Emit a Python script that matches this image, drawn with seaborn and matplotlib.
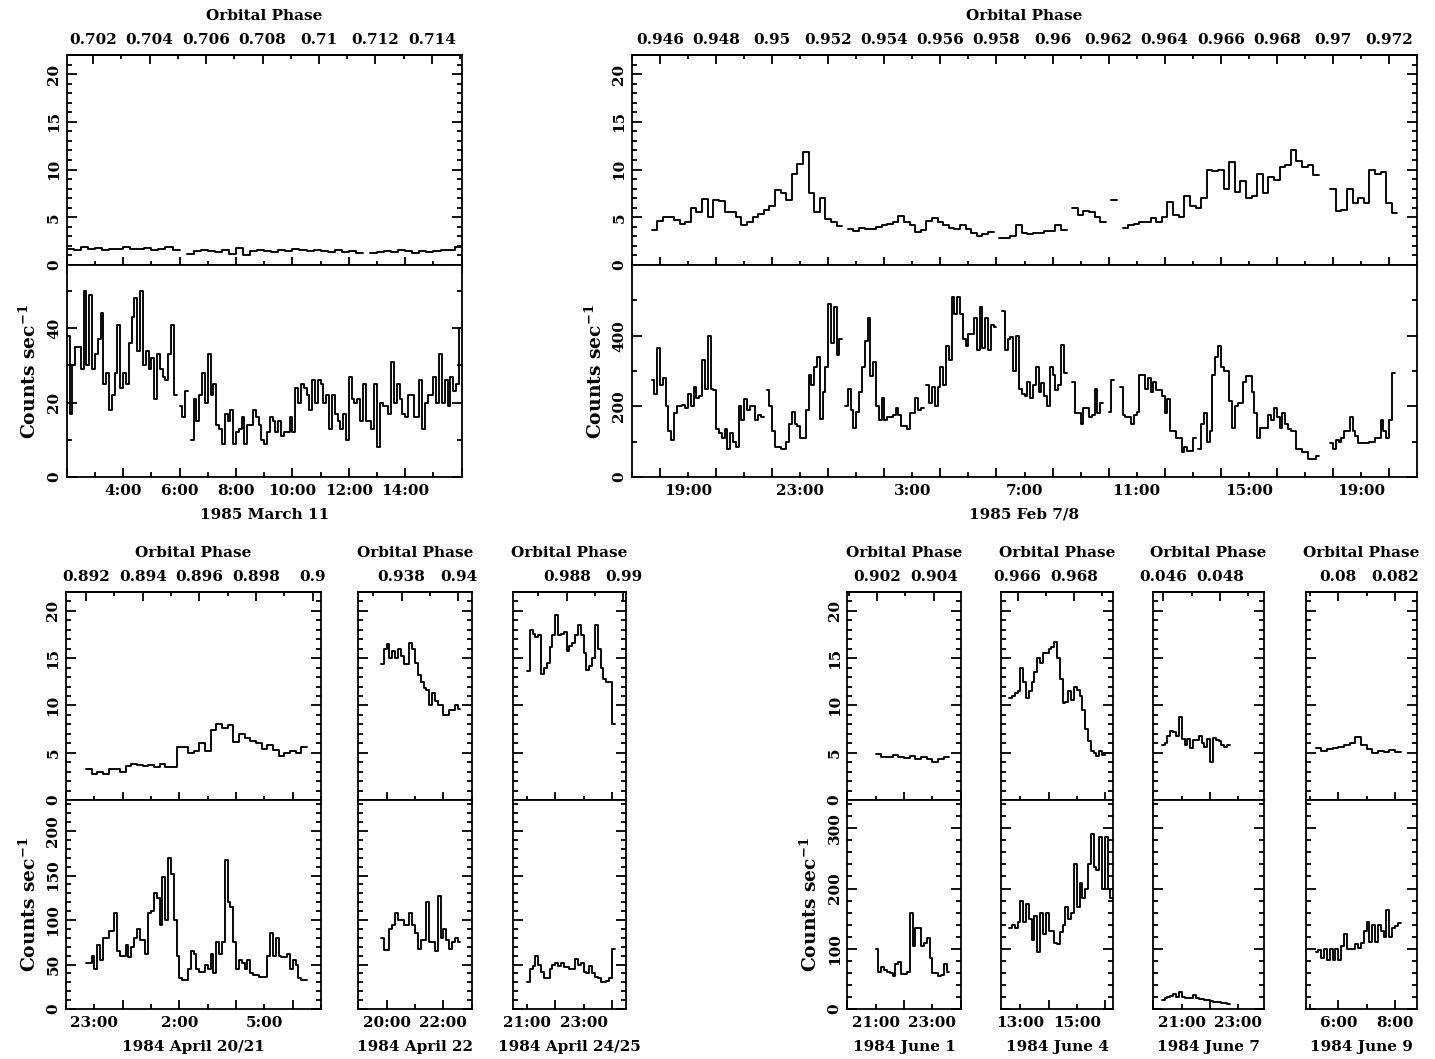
import numpy as np
import pandas as pd
import matplotlib
matplotlib.use("Agg")
import matplotlib.pyplot as plt
import seaborn as sns
from matplotlib.ticker import FixedLocator

nan = np.nan

# ---------------------------------------------------------------------------
# Light curves: low-energy rate (upper strip) and high-energy rate (lower strip)
# Each curve: start hour, bin width (h), binned count rates (nan = data gap)
# ---------------------------------------------------------------------------

# 1985 March 11
A_TOP_START, A_TOP_BIN = 2.0, 0.25
A_TOP = [1.7, 1.6, 1.9, 1.7, 1.8, 1.6, 1.7, 1.7, 1.9, 1.7, 1.7, 1.8, 1.6, 1.7, 1.9, 1.6,
         nan,
         1.2, 1.5, 1.6, 1.5, 1.4, 1.6, 1.2, 1.8, 1.0, 1.5, 1.6, 1.5, 1.4, 1.6, 1.5, 1.7,
         1.6, 1.5, 1.6, 1.5, 1.4, 1.6, 1.4, 1.5, 1.3,
         nan,
         1.3, 1.4, 1.5, 1.4, 1.6, 1.5, 1.3, 1.5, 1.4, 1.5, 1.6, 1.6, 1.9]
A_BOT_START, A_BOT_BIN = 2.0, 0.1
A_BOT = [38, 17, 30, 35, 35, 29, 50, 30, 49, 29,
         33, 37, 44, 25, 28, 18, 22, 28, 41, 24,
         28, 25, 36, 43, 48, 34, 50, 30, 34, 29,
         32, 21, 33, 29, 27, 26, 33, 41, 22, nan,
         19, 16, 23, nan, 10, 21, 15, 22, 28, 20,
         33, 22, 25, 14, 13, 9, 17, 15, 18, 9,
         12, 13, 16, 9, 14, 14, 18, 16, 14, 10,
         9, 12, 16, 15, 12, 15, 11, 12, 12, 16,
         12, 24, 20, 25, 24, 22, 18, 26, 20, 26,
         25, 20, 22, 13, 22, 17, 15, 13, 17, 10,
         27, 21, 20, 21, 15, 25, 15, 15, 13, 25,
         8, 20, 19, 19, 17, 31, 20, 25, 21, 17,
         16, 22, 22, 16, 16, 26, 13, 20, 22, 22,
         27, 20, 33, 20, 26, 19, 27, 23, 25, 40]

# 1985 Feb 7/8 (hours counted from Feb 7 0:00)
B_TOP_START, B_TOP_BIN = 17.7, 0.2
B_TOP = [3.7, 4.6, 5.0, 5.0, 4.7, 4.3, 4.5, 6.0, 5.5, 6.9,
         5.0, 6.8, 6.7, 5.6, 5.5, 5.0, 4.2, 4.5, 5.0, 5.3,
         5.8, 6.2, 7.9, 7.5, 6.8, 9.5, 10.6, 11.8, 7.5, 5.6,
         7.0, 4.8, 4.5, 4.1, nan, 3.8, 3.6, 3.9, 3.8, 3.8,
         4.0, 4.2, 4.3, 4.5, 5.1, 4.5, 4.2, 3.5, 3.7, 4.6,
         4.9, 4.5, 4.2, 3.9, 3.8, 4.2, 3.8, 3.4, 3.0, 3.2,
         3.5, nan, 2.8, 2.8, 3.0, 4.2, 3.4, 3.2, 3.3, 3.4,
         3.6, 3.6, 4.2, 3.7, nan, 6.0, 5.2, 5.7, 5.5, 5.0,
         4.5, nan, 6.8, nan, 3.9, 4.2, 4.3, 4.5, 4.5, 4.9,
         4.5, 5.0, 6.6, 5.2, 5.0, 7.2, 6.2, 6.0, 7.0, 10.0,
         9.8, 10.0, 8.0, 10.8, 7.6, 8.8, 7.0, 7.2, 9.5, 7.5,
         9.2, 8.9, 10.3, 10.5, 12.0, 10.9, 10.3, 10.5, 9.4, nan,
         nan, 8.0, 5.7, 5.8, 8.0, 6.5, 7.0, 6.5, 9.9, 9.5,
         9.7, 6.5, 5.4]
B_BOT_START, B_BOT_BIN = 17.7, 0.1
B_BOT = [275, 235, 365, 260, 280, 200, 130, 105, 180, 200,
         200, 205, 195, 235, 200, 255, 225, 230, 330, 250,
         400, 250, 245, 135, 125, 110, 135, 80, 125, 100,
         85, 200, 160, 220, 190, 200, 200, 160, 175, 170,
         nan, 245, 200, 130, 85, 85, 80, 80, 100, 150,
         185, 150, 145, 110, 110, 190, 290, 260, 310, 340,
         165, 240, 310, 490, 380, 480, 345, 390, nan, 200,
         250, 190, 140, 185, 240, 310, 385, 450, 285, 325,
         200, 160, 225, 160, 170, 170, 175, 195, 175, 145,
         145, 135, 180, 180, 225, 190, 195, nan, 260, 210,
         255, 200, 255, 310, 260, 370, 330, 510, 460, 510,
         460, 390, 370, 405, 405, 450, 360, 480, 365, 450,
         360, 430, 425, nan, nan, 470, 360, 390, 395, 300,
         400, 250, 235, 230, 270, 225, 260, 310, 240, 265,
         230, 200, 310, 290, 245, 260, 375, 295, nan, nan,
         270, 180, 180, 150, 195, 195, 170, 175, 250, 180,
         210, nan, nan, 185, 275, nan, nan, 255, 175, 170,
         170, 150, 175, 185, 290, 290, 250, 280, 240, 270,
         245, 245, 230, 180, 220, 130, 130, 110, 110, 70,
         85, 75, 75, 110, nan, 80, 150, 180, 100, 130,
         290, 340, 370, 310, 300, 300, 215, 140, 200, 210,
         210, 270, 285, 285, 240, 180, 110, 140, 140, 140,
         175, 160, 195, 170, 140, 180, 150, 135, 130, 130,
         80, 80, 70, 70, 50, 50, 50, 60, nan, nan,
         nan, nan, 95, 80, 105, 100, 110, 130, 130, 170,
         130, 115, 95, 95, 95, 95, 100, 100, 110, 110,
         160, 130, 110, 160, 295]

# 1984 April 20/21 (hours from April 20 0:00)
C_TOP_START, C_TOP_BIN = 22.7, 0.2
C_TOP = [3.3, 2.7, 3.0, 2.8, 3.3, 3.3, 3.0, 3.6, 3.8, 3.7,
         3.6, 3.7, 3.5, 3.8, 3.5, 3.5, 5.6, 5.6, 5.0, 5.2,
         6.0, 5.2, 7.4, 8.0, 7.6, 7.9, 6.1, 7.0, 6.6, 6.2,
         6.0, 5.4, 5.8, 5.3, 4.7, 5.0, 5.2, 5.0, 5.6]
C_BOT_START, C_BOT_BIN = 22.7, 0.1
C_BOT = [52, 52, 60, 45, 72, 55, 80, 80, 88, 88,
         108, 65, 60, 60, 72, 58, 70, 80, 90, 78,
         78, 62, 108, 110, 130, 125, 95, 148, 100, 170,
         152, 100, 60, 35, 33, 33, 45, 65, 62, 45,
         42, 42, 50, 45, 62, 40, 75, 62, 75, 168,
         120, 115, 75, 45, 55, 52, 45, 55, 40, 38,
         38, 36, 36, 36, 60, 85, 60, 80, 60, 58,
         58, 62, 45, 55, 50, 35, 33, 33]

# 1984 April 22
D_TOP_START, D_TOP_BIN = 19.8, 0.1
D_TOP = [14.4, 16.0, 16.5, 15.0, 15.8, 15.0, 16.0, 15.2, 14.4, 14.4,
         16.6, 16.0, 14.5, 13.2, 12.5, 11.8, 11.6, 10.0, 11.3, 10.5,
         10.0, 10.0, 9.0, 9.0, 9.5, 9.5, 10.1, 9.6]
D_BOT_START, D_BOT_BIN = 19.8, 0.1
D_BOT = [80, 66, 66, 90, 95, 108, 100, 100, 95, 95,
         108, 95, 85, 68, 78, 78, 120, 75, 75, 65,
         127, 80, 90, 78, 68, 75, 80, 75]

# 1984 April 24/25
E_TOP_START, E_TOP_BIN = 21.0, 0.1
E_TOP = [13.6, 18.0, 17.6, 17.2, 17.4, 13.3, 14.0, 14.5, 16.2, 17.5,
         19.6, 17.5, 17.6, 17.8, 15.8, 16.3, 16.6, 17.5, 18.5, 17.5,
         15.5, 13.8, 14.2, 15.0, 18.5, 16.0, 14.0, 12.8, 12.5, 12.5, 8.0]
E_BOT_START, E_BOT_BIN = 21.0, 0.1
E_BOT = [30, 45, 48, 60, 50, 42, 35, 35, 45, 50,
         52, 48, 52, 47, 47, 45, 45, 56, 50, 52,
         42, 40, 48, 40, 36, 35, 30, 30, 32, 35, 68]

# 1984 June 1
F_TOP_START, F_TOP_BIN = 21.0, 0.2
F_TOP = [4.9, 4.5, 4.6, 4.8, 4.5, 4.4, 4.7, 4.3, 4.6, 4.3, 4.0, 4.3, 4.6]
F_BOT_START, F_BOT_BIN = 21.0, 0.1
F_BOT = [100, 62, 70, 65, 62, 60, 55, 75, 78, 58,
         58, 62, 160, 105, 135, 135, 105, 110, 118, 85,
         60, 60, 55, 56, 75, 62]

# 1984 June 4
G_TOP_START, G_TOP_BIN = 12.6, 0.1
G_TOP = [10.8, 11.0, 11.3, 11.5, 14.0, 12.5, 10.8, 11.5, 12.5, 13.5,
         15.0, 14.5, 15.6, 15.5, 16.0, 16.2, 16.7, 15.0, 12.8, 10.3,
         10.4, 11.5, 10.6, 12.0, 11.6, 11.0, 9.5, 7.5, 6.2, 5.2,
         5.0, 4.7, 5.2, 4.8, 5.0, 5.0]
G_BOT_START, G_BOT_BIN = 12.6, 0.1
G_BOT = [135, 140, 135, 145, 180, 145, 175, 150, 115, 155,
         95, 160, 125, 160, 130, 130, 110, 108, 128, 140,
         170, 150, 160, 240, 170, 210, 185, 200, 240, 290,
         235, 230, 285, 200, 285, 200, 185]

# 1984 June 7
H_TOP_START, H_TOP_BIN = 20.3, 0.1
H_TOP = [5.8, 6.0, 6.8, 7.3, 7.2, 6.8, 8.8, 6.5, 5.8, 6.5,
         5.5, 6.3, 6.3, 6.8, 6.0, 5.6, 6.5, 4.0, 6.6, 6.3,
         6.2, 5.8, 5.6, 5.8]
H_BOT_START, H_BOT_BIN = 20.3, 0.1
H_BOT = [15, 18, 20, 22, 25, 20, 28, 20, 18, 18,
         18, 24, 18, 17, 17, 15, 15, 13, 12, 12,
         11, 10, 10, 9]

# 1984 June 9
I_TOP_START, I_TOP_BIN = 5.2, 0.2
I_TOP = [5.5, 5.2, 5.4, 5.5, 5.6, 5.8, 6.0, 6.7, 5.8, 5.4, 5.0, 5.2, 5.1, 5.3, 5.1]
I_BOT_START, I_BOT_BIN = 5.2, 0.1
I_BOT = [95, 98, 85, 100, 82, 100, 82, 100, 82, 105,
         125, 100, 100, 100, 108, 102, 110, 130, 145, 112,
         140, 112, 140, 130, 120, 165, 120, 135, 138, 142]

# Orbital phase reference: phase value at a given hour, 0.001 per hour
A_PHASE = (0.702, 2.94)
B_PHASE = (0.946, 18.0)
C_PHASE = (0.892, 22.71)
D_PHASE = (0.938, 20.53)
E_PHASE = (0.988, 22.41)
F_PHASE = (0.902, 21.05)
G_PHASE = (0.966, 12.90)
H_PHASE = (0.046, 20.35)
I_PHASE = (0.080, 6.00)

# Hours that carry a clock label on the time axis
A_TIME_LABELS = [4, 6, 8, 10, 12, 14]
B_TIME_LABELS = [19, 23, 27, 31, 35, 39, 43]
C_TIME_LABELS = [23, 26, 29]
D_TIME_LABELS = [20, 22]
E_TIME_LABELS = [21, 23]
F_TIME_LABELS = [21, 23]
G_TIME_LABELS = [13, 15]
H_TIME_LABELS = [21, 23]
I_TIME_LABELS = [6, 8]

DATES = ["1985 March 11", "1985 Feb 7/8", "1984 April 20/21", "1984 April 22",
         "1984 April 24/25", "1984 June 1", "1984 June 4", "1984 June 7", "1984 June 9"]

# ---------------------------------------------------------------------------
# Style
# ---------------------------------------------------------------------------
sns.set_theme(style="ticks")
plt.rcParams["font.family"] = ["DejaVu Serif"]
plt.rcParams["font.weight"] = "bold"
plt.rcParams["axes.labelweight"] = "bold"
plt.rcParams["mathtext.fontset"] = "dejavuserif"
plt.rcParams["mathtext.default"] = "bf"
plt.rcParams["axes.linewidth"] = 1.3
plt.rcParams["axes.edgecolor"] = "black"
plt.rcParams["text.color"] = "black"
plt.rcParams["axes.labelcolor"] = "black"
plt.rcParams["xtick.color"] = "black"
plt.rcParams["ytick.color"] = "black"

W, H = 1435, 1059
fig = plt.figure(figsize=(W / 100, H / 100), dpi=100)
fig.patch.set_facecolor("white")

LW = 1.35
TW = 1.3
FS = 11
FS_YLAB = 13.5


def step_frame(start, width, values):
    v = np.asarray(values, dtype=float)
    t = start + width * np.arange(len(v))
    parts, seg, i, n = [], 0, 0, len(v)
    while i < n:
        if np.isnan(v[i]):
            i += 1
            continue
        j = i
        while j < n and not np.isnan(v[j]):
            j += 1
        xs = np.append(t[i:j], t[j - 1] + width)
        ys = np.append(v[i:j], v[j - 1])
        parts.append(pd.DataFrame({"hour": xs, "rate": ys, "seg": seg}))
        seg += 1
        i = j
    return pd.concat(parts, ignore_index=True)


def draw_curve(ax, start, width, values):
    df = step_frame(start, width, values)
    sns.lineplot(data=df, x="hour", y="rate", units="seg", estimator=None,
                 drawstyle="steps-post", color="black", linewidth=LW,
                 legend=False, sort=False, ax=ax)
    ax.set_xlabel("")
    ax.set_ylabel("")


def phase_text(p):
    return f"{p:.3f}".rstrip("0").rstrip(".")


def in_range(lo, hi, step):
    k0 = int(np.ceil(lo / step - 1e-9))
    k1 = int(np.floor(hi / step + 1e-9))
    return np.arange(k0, k1 + 1) * step


def rect(l, r, top, bot):
    return [l / W, 1 - bot / H, (r - l) / W, (bot - top) / H]


def style_y(ax, show_labels):
    ax.tick_params(axis="y", which="both", direction="in", left=True, right=True,
                   labelleft=show_labels, labelright=False, width=TW,
                   labelsize=FS, labelrotation=90, pad=4)
    ax.tick_params(axis="y", which="major", length=7.5)
    ax.tick_params(axis="y", which="minor", length=3.6)
    if show_labels:
        for lab in ax.get_yticklabels():
            lab.set_verticalalignment("center")


def make_panel(box, rows, xlim, top_curve, bot_curve, bot_ymax, bot_major,
               bot_minor, phase, time_labels, date, show_y):
    l, r = box
    row_top, row_mid, row_bot = rows
    ax_t = fig.add_axes(rect(l, r, row_top, row_mid))
    ax_b = fig.add_axes(rect(l, r, row_mid, row_bot))

    draw_curve(ax_t, *top_curve)
    draw_curve(ax_b, *bot_curve)

    for ax in (ax_t, ax_b):
        ax.set_xlim(*xlim)
        ax.set_facecolor("white")
        ax.xaxis.set_major_locator(FixedLocator(in_range(xlim[0], xlim[1], 2)))
        ax.xaxis.set_minor_locator(FixedLocator(in_range(xlim[0], xlim[1], 1)))
        for s in ax.spines.values():
            s.set_linewidth(1.3)
            s.set_color("black")

    # upper strip: soft band rate
    ax_t.set_ylim(0, 22)
    ax_t.yaxis.set_major_locator(FixedLocator([0, 5, 10, 15, 20]))
    ax_t.yaxis.set_minor_locator(FixedLocator(np.arange(0, 22)))
    ax_t.tick_params(axis="x", which="both", direction="inout", bottom=True,
                     top=False, labelbottom=False, width=TW)
    ax_t.tick_params(axis="x", which="major", length=11)
    ax_t.tick_params(axis="x", which="minor", length=6)
    style_y(ax_t, show_y)

    # lower strip: hard band rate
    ax_b.set_ylim(0, bot_ymax)
    ax_b.yaxis.set_major_locator(FixedLocator(np.arange(0, bot_ymax - 1e-6, bot_major)))
    ax_b.yaxis.set_minor_locator(FixedLocator(np.arange(0, bot_ymax - 1e-6, bot_minor)))
    ax_b.tick_params(axis="x", which="both", direction="in", bottom=True,
                     top=False, labelbottom=False, width=TW)
    ax_b.tick_params(axis="x", which="major", length=6.5)
    ax_b.tick_params(axis="x", which="minor", length=3.6)
    style_y(ax_b, show_y)
    if show_y:
        ax_b.set_ylabel("Counts sec$^{-1}$", fontsize=FS_YLAB, fontweight="bold",
                        labelpad=5)

    # orbital phase scale on top
    p0, h0 = phase
    to_phase = lambda h, p0=p0, h0=h0: p0 + (np.asarray(h) - h0) * 1e-3
    to_hour = lambda p, p0=p0, h0=h0: h0 + (np.asarray(p) - p0) * 1e3
    sec = ax_t.secondary_xaxis("top", functions=(to_phase, to_hour))
    plo, phi = sorted(to_phase(np.array(xlim)))
    majors = in_range(plo, phi, 0.002)
    sec.set_ticks(majors, labels=[phase_text(p) for p in majors])
    sec.set_ticks(in_range(plo, phi, 0.001), minor=True)
    sec.tick_params(which="both", direction="in", width=TW, labelsize=FS)
    sec.tick_params(which="major", length=6.5, pad=6)
    sec.tick_params(which="minor", length=3)
    sec.set_xlabel("Orbital Phase", fontsize=FS, fontweight="bold", labelpad=9)

    # clock labels under the lower strip
    tl = ax_b.secondary_xaxis("bottom")
    tl.set_ticks(time_labels, labels=[f"{int(h) % 24}:00" for h in time_labels])
    tl.tick_params(length=0, pad=5, labelsize=FS)
    tl.spines["bottom"].set_visible(False)
    tl.set_xlabel(date, fontsize=FS, fontweight="bold", labelpad=7)


TOP_ROW = (55, 265, 477)
BOTTOM_ROW = (592, 800, 1009)

make_panel((66.7, 461.7), TOP_ROW, (2, 16),
           (A_TOP_START, A_TOP_BIN, A_TOP), (A_BOT_START, A_BOT_BIN, A_BOT),
           57, 20, 10, A_PHASE, A_TIME_LABELS, DATES[0], True)
make_panel((632, 1417), TOP_ROW, (17, 45),
           (B_TOP_START, B_TOP_BIN, B_TOP), (B_BOT_START, B_BOT_BIN, B_BOT),
           600, 200, 100, B_PHASE, B_TIME_LABELS, DATES[1], True)
make_panel((66, 321), BOTTOM_ROW, (22, 31),
           (C_TOP_START, C_TOP_BIN, C_TOP), (C_BOT_START, C_BOT_BIN, C_BOT),
           235, 50, 10, C_PHASE, C_TIME_LABELS, DATES[2], True)
make_panel((358.3, 471.7), BOTTOM_ROW, (19, 23),
           (D_TOP_START, D_TOP_BIN, D_TOP), (D_BOT_START, D_BOT_BIN, D_BOT),
           235, 50, 10, D_PHASE, D_TIME_LABELS, DATES[3], False)
make_panel((512.7, 626), BOTTOM_ROW, (20.5, 24.5),
           (E_TOP_START, E_TOP_BIN, E_TOP), (E_BOT_START, E_BOT_BIN, E_BOT),
           235, 50, 10, E_PHASE, E_TIME_LABELS, DATES[4], False)
make_panel((847.3, 960.7), BOTTOM_ROW, (20, 24),
           (F_TOP_START, F_TOP_BIN, F_TOP), (F_BOT_START, F_BOT_BIN, F_BOT),
           347, 100, 20, F_PHASE, F_TIME_LABELS, DATES[5], True)
make_panel((1000.7, 1113.3), BOTTOM_ROW, (12.3, 16.3),
           (G_TOP_START, G_TOP_BIN, G_TOP), (G_BOT_START, G_BOT_BIN, G_BOT),
           347, 100, 20, G_PHASE, G_TIME_LABELS, DATES[6], False)
make_panel((1153.3, 1264), BOTTOM_ROW, (20, 23.9),
           (H_TOP_START, H_TOP_BIN, H_TOP), (H_BOT_START, H_BOT_BIN, H_BOT),
           347, 100, 20, H_PHASE, H_TIME_LABELS, DATES[7], False)
make_panel((1305.7, 1416.7), BOTTOM_ROW, (4.85, 8.77),
           (I_TOP_START, I_TOP_BIN, I_TOP), (I_BOT_START, I_BOT_BIN, I_BOT),
           347, 100, 20, I_PHASE, I_TIME_LABELS, DATES[8], False)

fig.savefig("out.png", dpi=100, facecolor="white")
